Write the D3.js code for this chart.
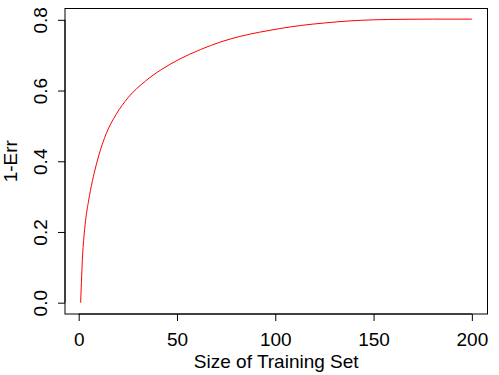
<!DOCTYPE html>
<html>
<head>
<meta charset="utf-8">
<script src="https://cdn.jsdelivr.net/npm/d3@7"></script>
<style>
  body { margin: 0; background: #fff; }
  text { font-family: "Liberation Sans", Arial, Helvetica, sans-serif; }
</style>
</head>
<body>
<div id="chart"></div>
<script>
// training set size vs 1-Err
var sizes = [1, 1.5, 2, 2.5, 3.5, 5, 6, 8, 10, 14, 19, 25, 34, 42, 51, 62, 72, 82, 92, 102, 113, 125, 138, 150, 165, 180, 200];
var acc   = [0, 0.074, 0.135, 0.175, 0.232, 0.287, 0.318, 0.369, 0.412, 0.478, 0.532, 0.579, 0.627, 0.659, 0.688, 0.716, 0.737, 0.753, 0.765, 0.775, 0.784, 0.791, 0.797, 0.800, 0.8015, 0.802, 0.802];
var xTicks = [0, 50, 100, 150, 200];
var yTicks = [0, 0.2, 0.4, 0.6, 0.8];

var W = 499, H = 375;
var margin = {top: 8.5, right: 11.5, bottom: 61, left: 65},
    width = W - margin.left - margin.right,
    height = H - margin.top - margin.bottom;

var svg = d3.select("#chart").append("svg")
    .attr("width", W)
    .attr("height", H)
  .append("g")
    .attr("transform", "translate(" + margin.left + "," + margin.top + ")");

var data = sizes.map(function(s, i) { return {x: s, y: acc[i]}; });

// R style 4% padding around the data range
var xPad = (200 - 1) * 0.04, yPad = 0.8 * 0.04;
var x = d3.scaleLinear().domain([1 - xPad, 200 + xPad]).range([0, width]);
var y = d3.scaleLinear().domain([0 - yPad, 0.8 + yPad]).range([height, 0]);

// box
svg.append("rect")
    .attr("x", 0).attr("y", 0)
    .attr("width", width).attr("height", height)
    .attr("fill", "none").attr("stroke", "#000").attr("stroke-width", 1);

var xAxis = svg.append("g")
    .attr("transform", "translate(0," + height + ")")
    .call(d3.axisBottom(x).tickValues(xTicks).tickSize(7).tickPadding(5).tickFormat(d3.format("d")));
xAxis.select(".domain").attr("d", "M" + x(0) + ",0H" + x(200));
xAxis.selectAll("text").attr("font-size", "19px").attr("fill", "#000")
    .attr("dy", null).attr("y", 32);

var yAxis = svg.append("g")
    .call(d3.axisLeft(y).tickValues(yTicks).tickSize(7).tickFormat(d3.format(".1f")));
yAxis.select(".domain").attr("d", "M0," + y(0) + "V" + y(0.8));
yAxis.selectAll(".tick text")
    .attr("font-size", "19px").attr("fill", "#000")
    .attr("x", null).attr("dy", null)
    .attr("text-anchor", "middle")
    .attr("transform", "translate(-18,0) rotate(-90)");

svg.selectAll(".tick line, .domain").attr("stroke", "#000");

svg.append("path")
    .datum(data)
    .attr("fill", "none")
    .attr("stroke", "#ff0000")
    .attr("stroke-width", 1)
    .attr("d", d3.line()
        .x(function(d) { return x(d.x); })
        .y(function(d) { return y(d.y); })
        .curve(d3.curveMonotoneX));

svg.append("text")
    .attr("x", width / 2)
    .attr("y", height + 54)
    .attr("text-anchor", "middle")
    .attr("font-size", "19px")
    .text("Size of Training Set");

svg.append("text")
    .attr("transform", "translate(-48," + (height / 2) + ") rotate(-90)")
    .attr("text-anchor", "middle")
    .attr("font-size", "19px")
    .text("1-Err");
</script>
</body>
</html>
